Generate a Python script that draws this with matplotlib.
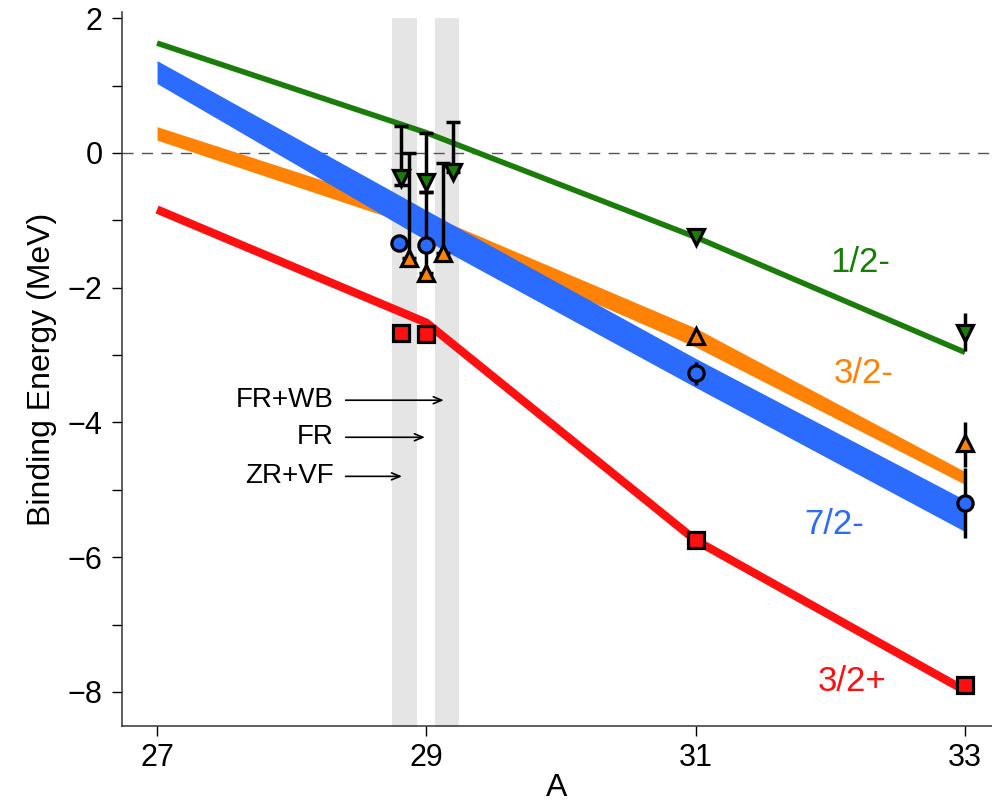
import matplotlib.pyplot as plt
import numpy as np

plt.rcParams['font.family'] = ['Liberation Sans', 'DejaVu Sans']

# --------------- data ---------------
A = [27, 29, 31, 33]

green_line = [1.63, 0.30, -1.25, -2.96]
orange_hi = [0.39, -0.90, -2.60, -4.73]
orange_lo = [0.19, -1.14, -2.88, -4.92]
blue_hi = [1.37, -0.85, -3.05, -5.15]
blue_lo = [1.03, -1.30, -3.48, -5.62]
red_line = [-0.84, -2.52, -5.75, -7.98]

# shaded method bands (A ranges)
bands = [(28.745, 28.93), (29.064, 29.242)]

# points near A=29: x, y, err_low, err_high
green_29 = [(28.81, -0.37, 0.10, 0.77), (29.0, -0.43, 0.15, 0.72), (29.197, -0.28, 0.0, 0.74)]
orange_29 = [(28.87, -1.56, 0.0, 1.56), (29.0, -1.78, 0.0, 1.20), (29.123, -1.49, 0.0, 1.34)]
blue_29 = [(28.80, -1.34), (29.0, -1.37)]
red_29 = [(28.81, -2.67), (29.0, -2.69)]

# points at A=31, 33: x, y, err_low, err_high
green_pts = [(31, -1.25, 0.0, 0.0), (33, -2.67, 0.27, 0.29)]
orange_pts = [(31, -2.72, 0.10, 0.0), (33, -4.31, 0.35, 0.32)]
blue_pts = [(31, -3.27, 0.17, 0.17), (33, -5.20, 0.52, 0.52)]
red_pts = [(31, -5.75), (33, -7.90)]

labels = ['1/2-', '3/2-', '7/2-', '3/2+']
label_pos = [(32.22, -1.62), (32.25, -3.27), (32.03, -5.52), (32.16, -7.84)]

methods = ['FR+WB', 'FR', 'ZR+VF']
method_y = [-3.67, -4.22, -4.80]
method_end = [29.15, 29.01, 28.84]

c_green = '#1a7d0a'
c_orange = '#ff8205'
c_blue = '#2b6cff'
c_red = '#ff1010'
label_colors = [c_green, c_orange, c_blue, c_red]

fig = plt.figure(figsize=(9.92, 8.08), dpi=100)
ax = fig.add_axes([0.123, 0.1015, 0.877, 0.8835])

for x0, x1 in bands:
    ax.fill_betweenx([-8.6, 2.0], x0, x1, color='#e5e5e5', lw=0, zorder=0)

ax.axhline(0, color='#555555', lw=1, dashes=(8, 6), zorder=1)

ax.plot(A, green_line, color=c_green, lw=4, zorder=2, solid_capstyle='butt')
ax.fill_between(A, orange_lo, orange_hi, color=c_orange, lw=0, zorder=2)
ax.fill_between(A, blue_lo, blue_hi, color=c_blue, lw=0, zorder=3)
ax.plot(A, red_line, color=c_red, lw=6, zorder=2, solid_capstyle='butt')


def draw(pts, marker, color, capsize):
    for p in pts:
        x, y = p[0], p[1]
        if len(p) == 4 and (p[2] > 0 or p[3] > 0):
            ax.errorbar([x], [y], yerr=[[p[2]], [p[3]]], fmt='none', ecolor='black',
                        elinewidth=2.5, capsize=capsize, capthick=2.5, zorder=5)
        ax.plot([x], [y], marker=marker, ms=11, mfc=color, mec='black', mew=2.3,
                ls='none', zorder=6)


draw(green_29, 'v', c_green, 5)
draw(orange_29, '^', c_orange, 5)
draw(blue_29, 'o', c_blue, 5)
draw(red_29, 's', c_red, 5)
draw(green_pts, 'v', c_green, 0)
draw(orange_pts, '^', c_orange, 0)
draw(blue_pts, 'o', c_blue, 0)
draw(red_pts, 's', c_red, 0)

for lab, (x, y), col in zip(labels, label_pos, label_colors):
    ax.text(x, y, lab, color=col, fontsize=25, ha='center', va='center')

for lab, y, xe in zip(methods, method_y, method_end):
    ax.annotate('', xy=(xe, y), xytext=(28.38, y),
                arrowprops=dict(arrowstyle='->,head_length=0.6,head_width=0.25', lw=1.2, color='black'))
    ax.text(28.31, y, lab, fontsize=20, ha='right', va='center')

ax.set_xlim(26.74, 33.2)
ax.set_ylim(-8.505, 2.09)
ax.set_xticks([27, 29, 31, 33])
ax.set_yticks([-8, -6, -4, -2, 0, 2])
ax.set_yticks([-7, -5, -3, -1, 1], minor=True)
ax.tick_params(axis='both', which='both', direction='out', length=7, width=1, labelsize=22)
ax.tick_params(axis='y', pad=7)
ax.tick_params(axis='x', pad=5)
ax.spines['top'].set_visible(False)
ax.spines['right'].set_visible(False)
for s in ['left', 'bottom']:
    ax.spines[s].set_linewidth(1.1)
    ax.spines[s].set_color('#333333')
ax.set_xlabel('A', fontsize=23, labelpad=0)
ax.set_ylabel('Binding Energy (MeV)', fontsize=23, labelpad=8)

fig.savefig('out.png', dpi=100)
